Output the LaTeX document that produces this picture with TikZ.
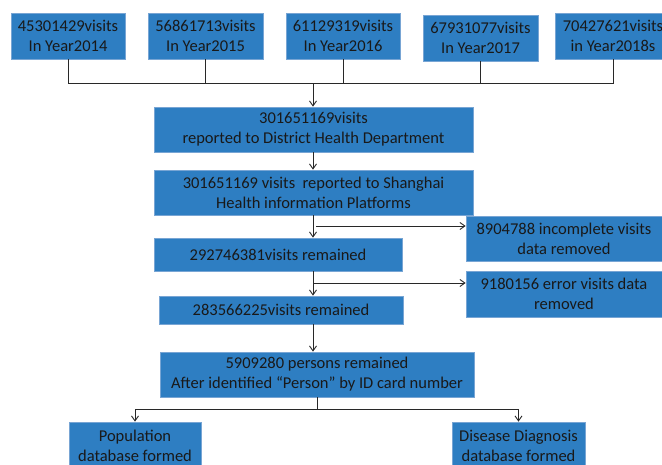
\documentclass[tikz,border=0pt]{standalone}
\usepackage{fontspec}
\setmainfont{Carlito}
\usetikzlibrary{arrows.meta}
\definecolor{boxblue}{RGB}{46,126,194}
\definecolor{boxedge}{RGB}{120,165,212}
\definecolor{linegray}{RGB}{40,40,40}
\begin{document}
\begin{tikzpicture}[x=1pt,y=-1pt,
  bx/.style={draw=boxedge,line width=0.7pt,fill=boxblue,text=black!90,align=center,
    inner sep=0pt,font=\fontsize{16.5}{20}\selectfont},
  conn/.style={draw=linegray,line width=0.9pt},
  arr/.style={conn,-{Straight Barb[length=5pt,width=7pt]}}]
\useasboundingbox (0,0) rectangle (662,464);
\clip (0,0) rectangle (662,464);
% year boxes
\node[bx,minimum width=114pt,minimum height=46pt] (b1) at (68,36) {45301429visits\\In Year2014};
\node[bx,minimum width=115pt,minimum height=46pt] (b2) at (205.5,36) {56861713visits\\In Year2015};
\node[bx,minimum width=114pt,minimum height=46pt] (b3) at (343,36) {61129319visits\\In Year2016};
\node[bx,minimum width=115pt,minimum height=46pt] (b4) at (480.5,38) {67931077visits\\In Year2017};
\node[bx,minimum width=116pt,minimum height=46pt] (b5) at (613,36) {70427621visits\\in Year2018s};
% main chain
\node[bx,minimum width=319pt,minimum height=45pt] (A) at (313.5,129.5) {301651169visits\\reported to District Health Department};
\node[bx,minimum width=319pt,minimum height=45pt] (B) at (313.5,192.5) {301651169 visits\ \ reported to Shanghai\\Health information Platforms};
\node[bx,minimum width=248pt,minimum height=33pt] (C) at (278,254.5) {292746381visits remained};
\node[bx,minimum width=244pt,minimum height=28pt] (D) at (281,310) {283566225visits remained};
\node[bx,minimum width=196pt,minimum height=45pt] (E) at (564,238.5) {8904788 incomplete visits\\data removed};
\node[bx,minimum width=196pt,minimum height=46pt] (F) at (564,294) {9180156 error visits data\\removed};
\node[bx,minimum width=314pt,minimum height=45pt] (G) at (317,374.5) {5909280 persons remained\\After identified “Person” by ID card number};
\node[bx,minimum width=132pt,minimum height=48pt] (H) at (135,446) {Population\\database formed};
\node[bx,minimum width=133pt,minimum height=48pt] (I) at (518.5,446) {Disease Diagnosis\\database formed};
% top collector
\coordinate (j) at (313,83);
\draw[conn] (b1.south) -- (b1.south |- j) -- (b5.south |- j) -- (b5.south);
\draw[conn] (b2.south) -- (b2.south |- j);
\draw[conn] (b3.south) -- (b3.south |- j);
\draw[conn] (b4.south) -- (b4.south |- j);
\draw[arr] (j) -- (j |- A.north);
% chain arrows
\coordinate (v) at (313,0);
\draw[arr] (v |- A.south) -- (v |- B.north);
\draw[arr] (v |- B.south) -- (v |- C.north);
\draw[arr] (v |- C.south) -- (v |- D.north);
\draw[arr] (v |- D.south) -- (v |- G.north);
% side arrows
\coordinate (s1) at (316,226);
\coordinate (s2) at (313,283);
\draw[arr] (s1) -- (s1 -| E.west);
\draw[arr] (s2) -- (s2 -| F.west);
% bottom split
\coordinate (k) at (317,409);
\draw[conn] (G.south) -- (k);
\draw[conn] (H.north |- k) -- (I.north |- k);
\draw[arr] (H.north |- k) -- (H.north);
\draw[arr] (I.north |- k) -- (I.north);
\end{tikzpicture}
\end{document}
